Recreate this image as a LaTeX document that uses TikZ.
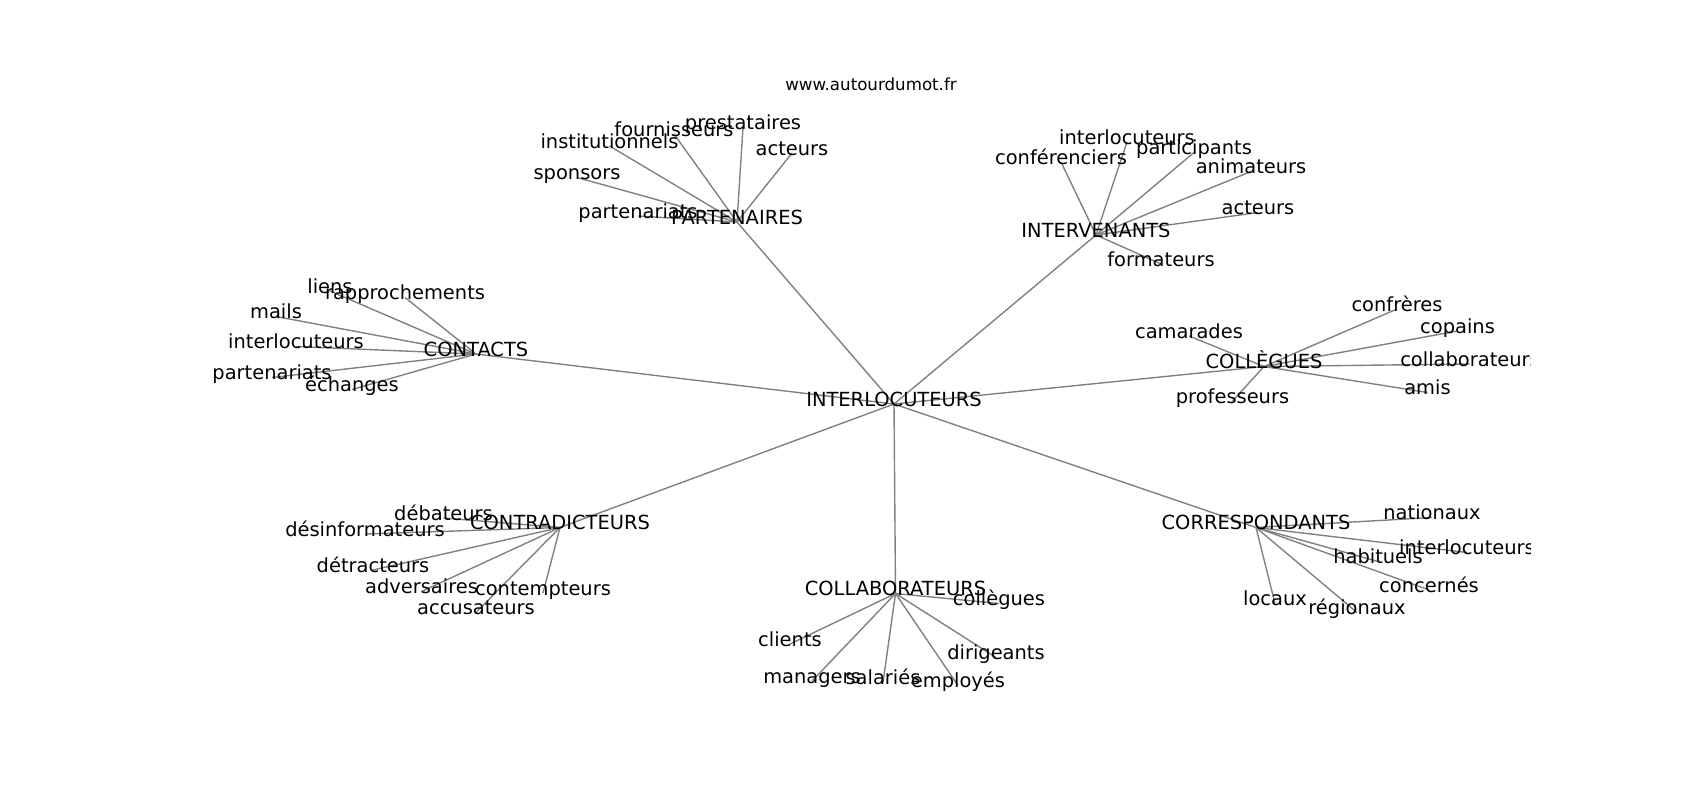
\documentclass[tikz,border=0pt]{standalone}
\usepackage{fontspec}
\setmainfont{DejaVu Sans}
\usepackage{tikz}
\usetikzlibrary{backgrounds}

\begin{document}
\begin{tikzpicture}[x=1pt, y=-1pt,
  word/.style={inner sep=0pt, text height=0.76em, text depth=0.30em, font=\fontsize{19.44}{23}\selectfont},
  edge/.style={draw=gray, line width=1.39pt}]

\useasboundingbox (0,-2) rectangle (1700,798);

% Title above the axes
\node[anchor=base, inner sep=0pt, font=\fontsize{16.67}{20}\selectfont] (T) at (871,88) {www.autourdumot.fr};

% First, define nodes (labels are cut at the axes box)
\begin{scope}
\clip (212.5,96) rectangle (1530,712);
\draw (894,402) node[word] (I) {INTERLOCUTEURS};

% PARTENAIRES
\draw (737,220) node[word] (P) {PARTENAIRES};
\draw (743,125.5) node[word] (P1) {prestataires};
\draw (674,132) node[word] (P2) {fournisseurs};
\draw (609.5,144) node[word] (P3) {institutionnels};
\draw (792,151) node[word] (P4) {acteurs};
\draw (577,175.5) node[word] (P5) {sponsors};
\draw (638,214) node[word] (P6) {partenariats};

% INTERVENANTS
\draw (1096,233) node[word] (V) {INTERVENANTS};
\draw (1127,140) node[word] (V1) {interlocuteurs};
\draw (1061,160) node[word] (V2) {conférenciers};
\draw (1194,150.5) node[word] (V3) {participants};
\draw (1251,169.5) node[word] (V4) {animateurs};
\draw (1258,210.5) node[word] (V5) {acteurs};
\draw (1161,262) node[word] (V6) {formateurs};

% CONTACTS
\draw (476,352) node[word] (C) {CONTACTS};
\draw (330,289) node[word] (C1) {liens};
\draw (405,295.5) node[word] (C2) {rapprochements};
\draw (276,314.5) node[word] (C3) {mails};
\draw (296,344.5) node[word] (C4) {interlocuteurs};
\draw (272,375.5) node[word] (C5) {partenariats};
\draw (352,387.5) node[word] (C6) {échanges};

% COLLEGUES
\draw (1264,364.5) node[word] (G) {COLLÈGUES};
\draw (1189,334) node[word] (G1) {camarades};
\draw (1232.5,399) node[word] (G2) {professeurs};
\draw (1397,307) node[word] (G3) {confrères};
\draw (1457.5,329) node[word] (G4) {copains};
\draw (1470,362) node[word] (G5) {collaborateurs};
\draw (1427.5,390.5) node[word] (G6) {amis};

% CONTRADICTEURS
\draw (560,525.5) node[word] (D) {CONTRADICTEURS};
\draw (443.5,516) node[word] (D1) {débateurs};
\draw (365,532) node[word] (D2) {désinformateurs};
\draw (373,568) node[word] (D3) {détracteurs};
\draw (421.5,589.5) node[word] (D4) {adversaires};
\draw (543,591) node[word] (D5) {contempteurs};
\draw (476,610.5) node[word] (D6) {accusateurs};

% COLLABORATEURS
\draw (895.5,591.5) node[word] (B) {COLLABORATEURS};
\draw (790,642) node[word] (B1) {clients};
\draw (812,679) node[word] (B2) {managers};
\draw (883,680.5) node[word] (B3) {salariés};
\draw (999,601.5) node[word] (B4) {collègues};
\draw (958,683.5) node[word] (B5) {employés};
\draw (996,655.5) node[word] (B6) {dirigeants};

% CORRESPONDANTS
\draw (1256,525.5) node[word] (R) {CORRESPONDANTS};
\draw (1275,601.5) node[word] (R1) {locaux};
\draw (1357,610.5) node[word] (R2) {régionaux};
\draw (1432,515.5) node[word] (R3) {nationaux};
\draw (1467,550.5) node[word] (R4) {interlocuteurs};
\draw (1378,559.5) node[word] (R5) {habituels};
\draw (1429,588) node[word] (R6) {concernés};
\end{scope}

% Now the edges, hub to hub and hub to words, behind the labels
\begin{scope}[on background layer]
\foreach \h in {P,V,C,G,D,B,R} {
  \draw[edge] (I.center) -- (\h.center);
  \foreach \i in {1,...,6} { \draw[edge] (\h.center) -- (\h\i.center); }
}
\end{scope}
\end{tikzpicture}
\end{document}
